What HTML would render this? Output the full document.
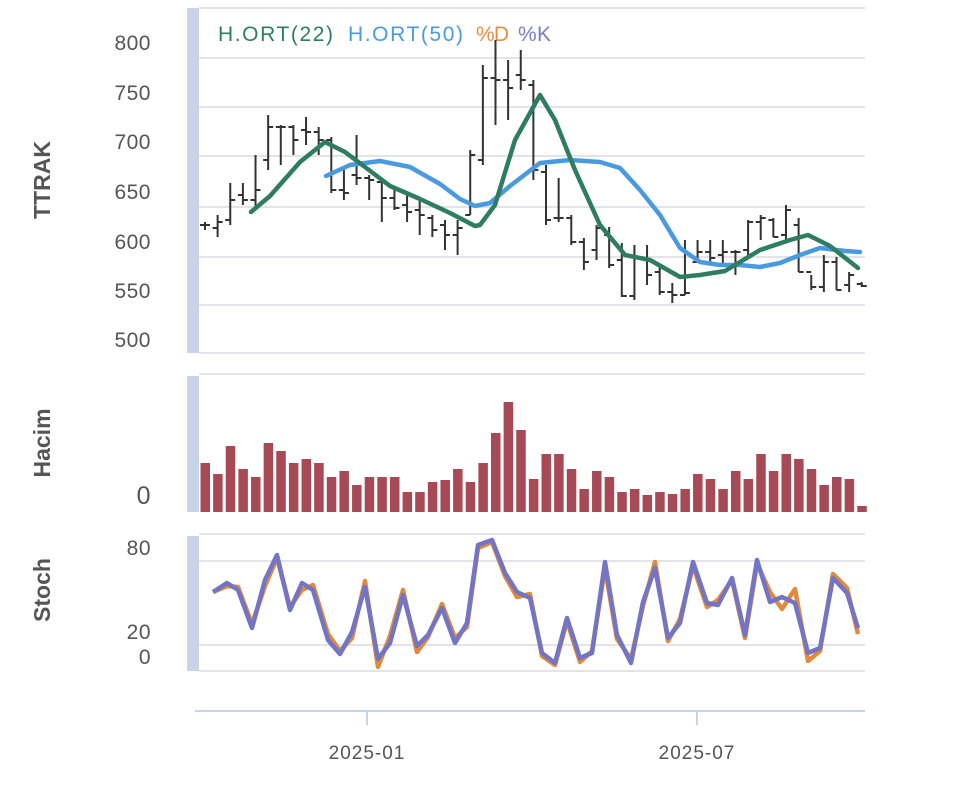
<!DOCTYPE html>
<html><head><meta charset="utf-8"><style>
html,body{margin:0;padding:0;background:#fff;width:960px;height:787px;overflow:hidden}
svg{display:block}
text{font-family:"Liberation Sans","DejaVu Sans",sans-serif}
</style></head><body>
<svg id="s" width="960" height="787" viewBox="0 0 960 787" xmlns="http://www.w3.org/2000/svg">
<g fill="#c9d3e8">
<rect x="187" y="8" width="12" height="345"/>
<rect x="187" y="376" width="12" height="136"/>
<rect x="187" y="536" width="12" height="135"/>
</g>
<g stroke="#e4e4e8" stroke-width="2" fill="none">
<line x1="199" y1="8" x2="865" y2="8"/>
<line x1="199" y1="58" x2="865" y2="58"/>
<line x1="199" y1="107" x2="865" y2="107"/>
<line x1="199" y1="156" x2="865" y2="156"/>
<line x1="199" y1="207" x2="865" y2="207"/>
<line x1="199" y1="257" x2="865" y2="257"/>
<line x1="199" y1="305" x2="865" y2="305"/>
<line x1="199" y1="353" x2="865" y2="353"/>
<line x1="199" y1="374" x2="865" y2="374"/>
<line x1="199" y1="534" x2="865" y2="534"/>
<line x1="199" y1="561" x2="865" y2="561"/>
<line x1="199" y1="645" x2="865" y2="645"/>
<line x1="199" y1="671" x2="865" y2="671"/>
</g>
<line x1="195" y1="711" x2="865" y2="711" stroke="#c9d3e8" stroke-width="2"/>
<line x1="367" y1="711" x2="367" y2="725" stroke="#c9d3e8" stroke-width="2"/>
<line x1="697" y1="711" x2="697" y2="725" stroke="#c9d3e8" stroke-width="2"/>
<g fill="#555" font-size="19" text-anchor="middle" letter-spacing="1">
<text x="367" y="759">2025-01</text>
<text x="697" y="759">2025-07</text>
</g>
<g fill="#555" font-size="21" text-anchor="end" letter-spacing="0.5">
<text x="151" y="50">800</text>
<text x="151" y="100">750</text>
<text x="151" y="149">700</text>
<text x="151" y="199">650</text>
<text x="151" y="249">600</text>
<text x="151" y="298">550</text>
<text x="151" y="347">500</text>
<text x="151" y="504" font-size="25">0</text>
<text x="151" y="555">80</text>
<text x="151" y="639">20</text>
<text x="151" y="664">0</text>
</g>
<g fill="#555" font-size="23" font-weight="bold" text-anchor="middle">
<text transform="translate(50,180) rotate(-90)">TTRAK</text>
<text transform="translate(50,443) rotate(-90)">Hacim</text>
<text transform="translate(50,590) rotate(-90)">Stoch</text>
</g>
<g font-size="21">
<text x="218" y="41" fill="#2e7d62" textLength="115">H.ORT(22)</text>
<text x="348" y="41" fill="#4a9ae0" textLength="115">H.ORT(50)</text>
<text x="476" y="41" fill="#e09040" textLength="33">%D</text>
<text x="518" y="41" fill="#7b7bc8" textLength="33">%K</text>
</g>
<g id="vol" fill="#a84a55"></g>
<g id="ohlc" stroke="#333" stroke-width="2" fill="none"></g>
<polyline id="ma50" fill="none" stroke="#4a9ae0" stroke-width="4.5" stroke-linejoin="round" stroke-linecap="round" points="326,176 350,165 380,161 410,167 440,184 460,199 475,206 490,203 510,186 540,163 570,160 600,162 620,168 640,190 660,215 680,248 700,262 720,265 740,265 760,267 780,263 800,255 820,248 845,251 860,252"/>
<polyline id="ma22" fill="none" stroke="#2e7d62" stroke-width="4.5" stroke-linejoin="round" stroke-linecap="round" points="251,212 270,196 300,162 325,142 345,152 365,167 390,186 420,199 450,213 475,226 480,225 495,205 515,140 540,95 555,120 575,170 600,225 625,255 650,260 680,277 700,275 725,271 760,250 790,240 808,235 830,246 858,268"/>
<polyline id="d" fill="none" stroke="#e08a3c" stroke-width="4.5" stroke-linejoin="round"></polyline>
<polyline id="k" fill="none" stroke="#7474c4" stroke-width="4.5" stroke-linejoin="round"></polyline>
</svg>
<script>
var NS="http://www.w3.org/2000/svg";
var vt=[463,474,446,469,477,443,451,463,459,463,477,471,485,477,477,477,492,492,482,480,469,482,463,433,402,430,479,454,454,469,489,471,477,492,489,495,492,494,489,474,479,489,471,479,454,471,454,459,469,485,477,479,506];
var vg=document.getElementById('vol');
for(var i=0;i<vt.length;i++){var x=205+12.63*i;var r=document.createElementNS(NS,'rect');r.setAttribute('x',x-4.5);r.setAttribute('y',vt[i]);r.setAttribute('width',9.5);r.setAttribute('height',512-vt[i]);vg.appendChild(r);}
var o=[[222,230,225,225],[215,237,228,222],[183,225,220,200],[183,205,195,200],[155,210,200,190],[115,170,160,127],[125,165,127,127],[125,155,127,140],[117,145,130,132],[127,155,132,140],[137,193,140,190],[170,200,190,193],[135,185,175,178],[175,200,178,180],[180,222,182,198],[190,210,198,208],[195,222,205,212],[200,235,210,215],[215,237,218,230],[220,250,225,235],[220,255,235,228],[150,215,215,155],[65,165,160,78],[40,125,78,80],[60,120,80,88],[50,90,75,80],[80,180,85,170],[165,225,172,220],[178,222,218,218],[215,245,218,242],[238,270,242,262],[225,260,250,228],[227,268,235,265],[243,297,260,296],[245,300,296,258],[245,285,258,275],[265,295,272,292],[283,303,292,295],[240,295,295,293],[240,260,262,252],[240,265,252,258],[240,265,255,252],[250,275,252,252],[220,255,250,222],[215,240,222,218],[218,237,220,237],[205,240,235,210],[218,272,225,272],[275,290,272,287],[255,292,287,262],[257,290,262,290],[272,292,285,275],[282,287,284,286]];
var og=document.getElementById('ohlc');var p='';
for(var i=0;i<o.length;i++){var x=205+12.63*i;var b=o[i];p+='M'+x+','+b[0]+'V'+b[1]+'M'+(x-5)+','+b[2]+'H'+x+'M'+x+','+b[3]+'H'+(x+5);}
var pe=document.createElementNS(NS,'path');pe.setAttribute('d',p);og.appendChild(pe);
var k=[[213,592],[227,583],[238,590],[252,628],[265,580],[277,555],[290,610],[302,583],[313,590],[328,640],[340,654],[352,632],[365,587],[378,659],[390,643],[403,595],[417,646],[428,635],[442,608],[455,643],[467,623],[478,545],[492,540],[505,573],[517,592],[530,598],[542,653],[555,663],[567,618],[580,658],[592,653],[605,562],[617,635],[631,663],[643,602],[655,568],[668,638],[680,623],[693,562],[707,603],[718,605],[732,578],[745,635],[757,560],[770,602],[782,597],[795,603],[808,653],[820,648],[833,578],[847,593],[858,628]];
var dd=[0,3,-3,-4,6,3,-3,7,-5,-6,-3,6,-6,8,-7,-5,6,2,-4,-5,4,3,2,3,5,-4,3,2,3,4,-2,6,4,-4,4,-6,3,-4,4,4,-5,2,3,4,-10,12,-14,8,3,-4,-5,6];
var ks='',ds='';for(var i=0;i<k.length;i++){ks+=k[i][0]+','+k[i][1]+' ';ds+=k[i][0]+','+(k[i][1]+dd[i])+' ';}
document.getElementById('k').setAttribute('points',ks);document.getElementById('d').setAttribute('points',ds);
</script>
</body></html>
